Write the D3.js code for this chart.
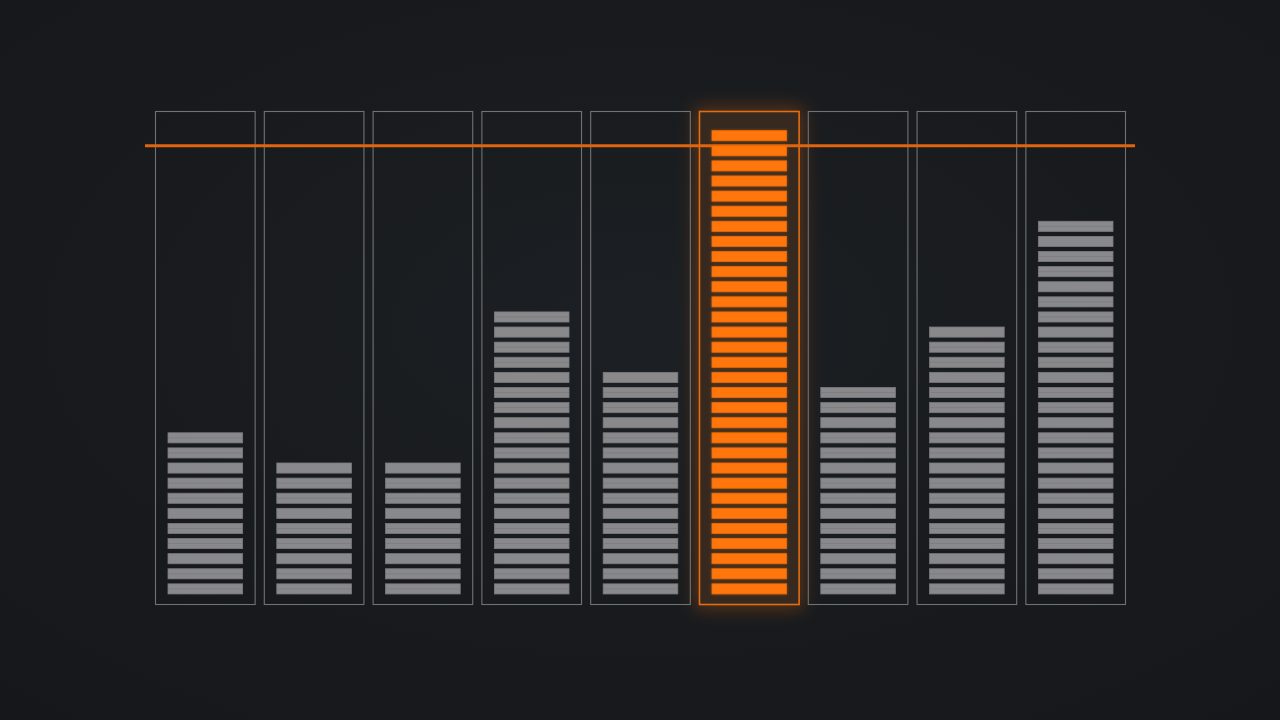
<!DOCTYPE html>
<html>
<head>
<meta charset="utf-8">
<script src="https://cdn.jsdelivr.net/npm/d3@7"></script>
<style>
  html, body { margin:0; padding:0; background:#181b1f; overflow:hidden; }
  svg { display:block; }
</style>
</head>
<body>
<div id="chart"></div>
<script>
// one entry per column, values are the number of stacked segments
var categories = ["c1","c2","c3","c4","c5","c6","c7","c8","c9"];
var segmentCounts = [11, 9, 9, 19, 15, 31, 14, 18, 25];
var highlighted = ["c6"];
var targetValue = [30];

var screen = {width:1280, height:720};
var margins = {top:111, bottom:115, left:155, right:154};

var graph =
{
    width:screen.width-margins.left-margins.right,
    height:screen.height-margins.top-margins.bottom
}

var svg = d3.select("#chart")
    .append("svg")
    .attr("width",screen.width)
    .attr("height",screen.height);

var defs = svg.append("defs");

// soft vignette on the background
var bg = defs.append("radialGradient")
    .attr("id","bg")
    .attr("cx","50%").attr("cy","45%").attr("r","75%");
bg.append("stop").attr("offset","0%").attr("stop-color","#1c1f23");
bg.append("stop").attr("offset","100%").attr("stop-color","#15171a");

var glow = defs.append("filter")
    .attr("id","glow")
    .attr("x","-40%").attr("y","-20%")
    .attr("width","180%").attr("height","140%");
glow.append("feGaussianBlur").attr("stdDeviation",9);

var softGlow = defs.append("filter")
    .attr("id","softGlow")
    .attr("x","-20%").attr("y","-20%")
    .attr("width","140%").attr("height","140%");
softGlow.append("feGaussianBlur").attr("in","SourceGraphic").attr("stdDeviation",1.5).attr("result","b");
softGlow.append("feComponentTransfer").attr("in","b").attr("result","bf")
    .append("feFuncA").attr("type","linear").attr("slope",0.45);
var merge = softGlow.append("feMerge");
merge.append("feMergeNode").attr("in","bf");
merge.append("feMergeNode").attr("in","SourceGraphic");

svg.append("rect")
    .attr("width",screen.width)
    .attr("height",screen.height)
    .attr("fill","url(#bg)");

var g = svg.append("g")
    .attr("transform","translate("+margins.left+","+margins.top+")");

var xScale = d3.scaleBand()
    .domain(categories)
    .range([0,graph.width])
    .paddingInner(0.075)
    .paddingOuter(0);

var yScale = d3.scaleLinear()
    .domain([-0.4, 32.3])
    .range([graph.height,0]);

var segGap = 5;
var segInset = 13;

var isHi = function(c){return highlighted.indexOf(c) >= 0;};

var data = categories.map(function(c,i){return {cat:c, count:segmentCounts[i]};});

// glow behind the highlighted column
g.selectAll(".halo")
    .data(data.filter(function(d){return isHi(d.cat);}))
    .enter()
    .append("rect")
    .attr("x",function(d){return xScale(d.cat)-4;})
    .attr("y",-4)
    .attr("width",xScale.bandwidth()+8)
    .attr("height",graph.height+8)
    .attr("fill","#ff7410")
    .attr("opacity",0.28)
    .attr("filter","url(#glow)");

g.selectAll(".hiFill")
    .data(data.filter(function(d){return isHi(d.cat);}))
    .enter()
    .append("rect")
    .attr("x",function(d){return xScale(d.cat);})
    .attr("y",0)
    .attr("width",xScale.bandwidth())
    .attr("height",graph.height)
    .attr("fill","#362a20");

// column frames
g.selectAll(".frame")
    .data(data)
    .enter()
    .append("rect")
    .attr("x",function(d){return xScale(d.cat)+0.5;})
    .attr("y",0.5)
    .attr("width",xScale.bandwidth()-1)
    .attr("height",graph.height-1)
    .attr("fill","none")
    .attr("stroke",function(d){return isHi(d.cat) ? "#e46d12" : "#707376";})
    .attr("stroke-width",function(d){return isHi(d.cat) ? 1.6 : 1.1;});

// target line
g.selectAll(".target")
    .data(targetValue)
    .enter()
    .append("line")
    .attr("x1",-10)
    .attr("x2",graph.width+9)
    .attr("y1",function(v){return yScale(v);})
    .attr("y2",function(v){return yScale(v);})
    .attr("stroke","#e0650f")
    .attr("stroke-width",3);

// stacked segments for every column
var cols = g.selectAll(".col")
    .data(data)
    .enter()
    .append("g")
    .attr("filter",function(d){return isHi(d.cat) ? "url(#softGlow)" : null;});

cols.selectAll("rect")
    .data(function(d){return d3.range(d.count).map(function(i){return {cat:d.cat, i:i};});})
    .enter()
    .append("rect")
    .attr("x",function(s){return xScale(s.cat)+segInset;})
    .attr("y",function(s){return yScale(s.i+1);})
    .attr("width",xScale.bandwidth()-2*segInset)
    .attr("height",function(s){return yScale(s.i)-yScale(s.i+1)-segGap;})
    .attr("fill",function(s){return isHi(s.cat) ? "#ff7607" : "#89898c";})
    .attr("stroke",function(s){return isHi(s.cat) ? "#e8680a" : "#7b7b7e";})
    .attr("stroke-width",0.8);

// faint inner line texture on the grey segments
cols.filter(function(d){return !isHi(d.cat);})
    .selectAll("line")
    .data(function(d){return d3.range(d.count).map(function(i){return {cat:d.cat, i:i};});})
    .enter()
    .append("line")
    .attr("x1",function(s){return xScale(s.cat)+segInset;})
    .attr("x2",function(s){return xScale(s.cat)+xScale.bandwidth()-segInset;})
    .attr("y1",function(s){return (yScale(s.i+1)+yScale(s.i)-segGap)/2;})
    .attr("y2",function(s){return (yScale(s.i+1)+yScale(s.i)-segGap)/2;})
    .attr("stroke","#767679")
    .attr("stroke-width",0.8)
    .attr("opacity",function(s){return s.i % 3 == 2 ? 0 : 0.7;});
</script>
</body>
</html>
